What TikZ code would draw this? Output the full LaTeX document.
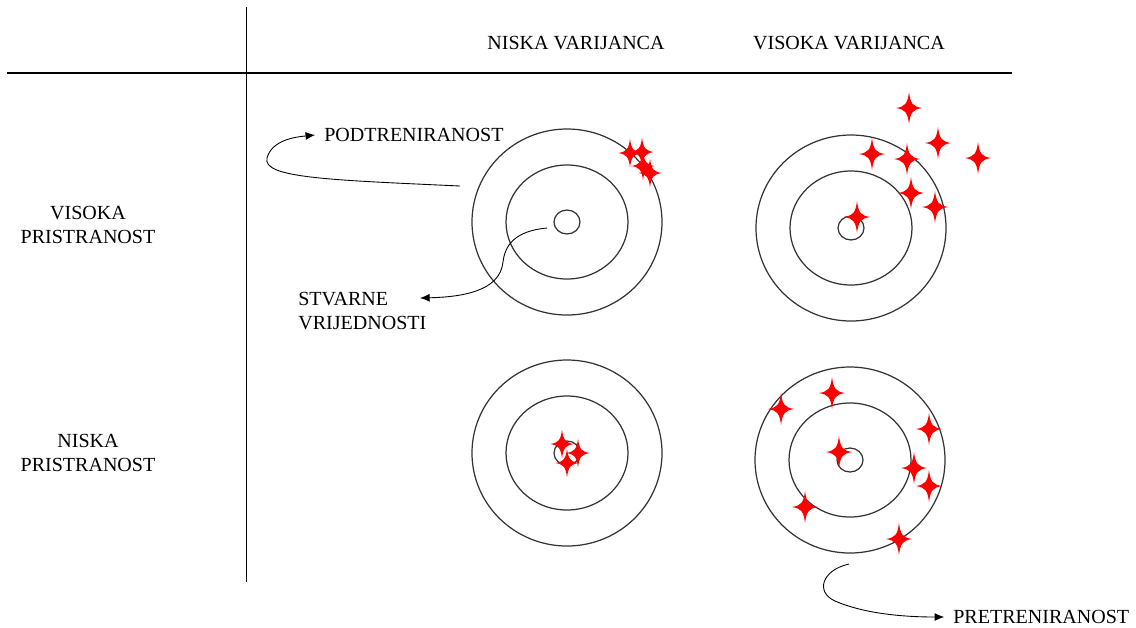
\documentclass[tikz,border=0pt]{standalone}
\usepackage{fontspec}
\setmainfont{Liberation Serif}
\usetikzlibrary{arrows.meta}
\tikzset{
  ring/.style={draw=black!80,line width=0.7pt},
  lbl/.style={inner sep=0pt,font=\fontsize{11.4}{13.7}\selectfont},
  pointer/.style={-{Latex[length=5.5pt,width=4.5pt]},line width=0.5pt},
  spark/.pic={\fill[red] (0,-16) .. controls (1.5,-4) and (4,-1.5) .. (13,0)
    .. controls (4,1.5) and (1.5,4) .. (0,16) .. controls (-1.5,4) and (-4,1.5) .. (-13,0)
    .. controls (-4,-1.5) and (-1.5,-4) .. cycle;}
}
\begin{document}
\begin{tikzpicture}[x=0.02cm,y=-0.02cm]
  \useasboundingbox (0,0) rectangle (1136,627);
  % table lines
  \draw[line width=0.5pt] (246,7) -- (246,582);
  \draw[line width=1.1pt] (7,73) -- (1012,73);

  % headings
  \node[lbl] (nv) at (576,43) {NISKA VARIJANCA};
  \node[lbl] (vv) at (849,43) {VISOKA VARIJANCA};
  \node[lbl,align=center] (vp) at (88,225) {VISOKA\\PRISTRANOST};
  \node[lbl,align=center] (np) at (88,453) {NISKA\\PRISTRANOST};

  % targets
  \coordinate (tl) at (567,222);
  \coordinate (tr) at (851,228);
  \coordinate (bl) at (567,453);
  \coordinate (br) at (850,460);
  \foreach \c in {tl,tr,bl,br} {
    \draw[ring] (\c) ellipse (95 and 93);
    \draw[ring] (\c) ellipse (61 and 57);
    \draw[ring] (\c) ellipse (13 and 12);
  }

  % predictions
  \foreach \p in {(630,153),(642,152),(643,166),(650,173)} \pic[scale=0.9] at \p {spark};
  \foreach \p in {(909,108),(938,143),(978,158),(872,154),(907,159),(911,193),(935,207),(857,217)} \pic at \p {spark};
  \foreach \p in {(562,444),(578,453),(567,463)} \pic[scale=0.9] at \p {spark};
  \foreach \p in {(781,409),(832,393),(929,429),(839,452),(914,468),(929,486),(805,507),(899,539)} \pic at \p {spark};

  % labels with arrows
  \node[lbl,anchor=west] (podt) at (324,135) {PODTRENIRANOST};
  \node[lbl,anchor=west,align=left] (stv) at (298,311) {STVARNE\\VRIJEDNOSTI};
  \node[lbl,anchor=west] (pret) at (953,617) {PRETRENIRANOST};
  \coordinate (podtin) at (460,186);
  \coordinate (stvin) at (547,228);
  \coordinate (stvout) at (420,298);
  \coordinate (pretin) at (849,564);

  \draw[pointer] (podtin) .. controls (330,180) and (262,178) .. (267,158)
    .. controls (272,140) and (295,137) .. ([xshift=-5pt]podt.west);
  \draw[pointer] (stvin) .. controls (515,231) and (505,245) .. (503,262)
    .. controls (500,292) and (460,297) .. (stvout);
  \draw[pointer] (pretin) .. controls (822,570) and (815,592) .. (835,601)
    .. controls (865,614) and (905,617) .. ([xshift=-5pt]pret.west);
\end{tikzpicture}
\end{document}
